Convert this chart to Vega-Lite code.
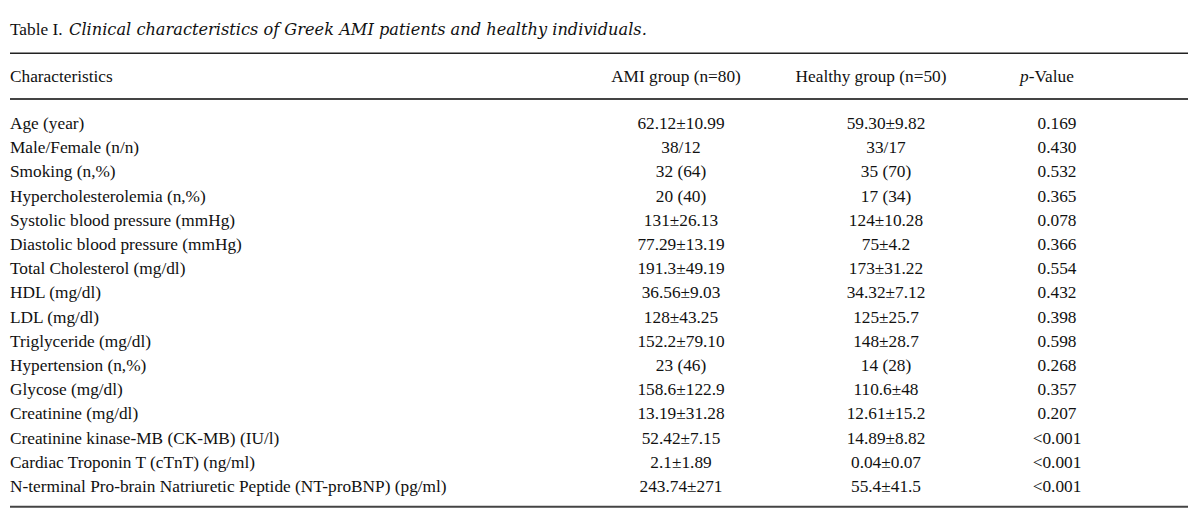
{
  "$schema": "https://vega.github.io/schema/vega-lite/v6.json",
  "width": 1200,
  "height": 532,
  "autosize": {"type": "fit", "contains": "padding"},
  "padding": 0,
  "background": "white",
  "config": {"view": {"stroke": null}, "text": {"font": "Liberation Serif", "fontSize": 17.3, "color": "#111111", "baseline": "alphabetic"}},
  "data": {"values": [
    {"i": 1, "Characteristic": "Age (year)", "AMI": "62.12±10.99", "Healthy": "59.30±9.82", "p": "0.169"},
    {"i": 2, "Characteristic": "Male/Female (n/n)", "AMI": "38/12", "Healthy": "33/17", "p": "0.430"},
    {"i": 3, "Characteristic": "Smoking (n,%)", "AMI": "32 (64)", "Healthy": "35 (70)", "p": "0.532"},
    {"i": 4, "Characteristic": "Hypercholesterolemia (n,%)", "AMI": "20 (40)", "Healthy": "17 (34)", "p": "0.365"},
    {"i": 5, "Characteristic": "Systolic blood pressure (mmHg)", "AMI": "131±26.13", "Healthy": "124±10.28", "p": "0.078"},
    {"i": 6, "Characteristic": "Diastolic blood pressure (mmHg)", "AMI": "77.29±13.19", "Healthy": "75±4.2", "p": "0.366"},
    {"i": 7, "Characteristic": "Total Cholesterol (mg/dl)", "AMI": "191.3±49.19", "Healthy": "173±31.22", "p": "0.554"},
    {"i": 8, "Characteristic": "HDL (mg/dl)", "AMI": "36.56±9.03", "Healthy": "34.32±7.12", "p": "0.432"},
    {"i": 9, "Characteristic": "LDL (mg/dl)", "AMI": "128±43.25", "Healthy": "125±25.7", "p": "0.398"},
    {"i": 10, "Characteristic": "Triglyceride (mg/dl)", "AMI": "152.2±79.10", "Healthy": "148±28.7", "p": "0.598"},
    {"i": 11, "Characteristic": "Hypertension (n,%)", "AMI": "23 (46)", "Healthy": "14 (28)", "p": "0.268"},
    {"i": 12, "Characteristic": "Glycose (mg/dl)", "AMI": "158.6±122.9", "Healthy": "110.6±48", "p": "0.357"},
    {"i": 13, "Characteristic": "Creatinine (mg/dl)", "AMI": "13.19±31.28", "Healthy": "12.61±15.2", "p": "0.207"},
    {"i": 14, "Characteristic": "Creatinine kinase-MB (CK-MB) (IU/l)", "AMI": "52.42±7.15", "Healthy": "14.89±8.82", "p": "<0.001"},
    {"i": 15, "Characteristic": "Cardiac Troponin T (cTnT) (ng/ml)", "AMI": "2.1±1.89", "Healthy": "0.04±0.07", "p": "<0.001"},
    {"i": 16, "Characteristic": "N-terminal Pro-brain Natriuretic Peptide (NT-proBNP) (pg/ml)", "AMI": "243.74±271", "Healthy": "55.4±41.5", "p": "<0.001"}
  ]},
  "layer": [
    {
      "mark": {"type": "text", "align": "left"},
      "encoding": {
        "x": {"datum": 10, "type": "quantitative", "scale": {"domain": [0, 1200], "range": [0, 1200], "zero": false, "nice": false}, "axis": null},
        "y": {"field": "i", "type": "quantitative", "scale": {"domain": [1, 16], "range": [129, 492], "zero": false, "nice": false}, "axis": null},
        "text": {"field": "Characteristic"}
      }
    },
    {
      "mark": {"type": "text", "align": "center"},
      "encoding": {"x": {"datum": 681, "type": "quantitative"}, "y": {"field": "i", "type": "quantitative"}, "text": {"field": "AMI"}}
    },
    {
      "mark": {"type": "text", "align": "center"},
      "encoding": {"x": {"datum": 886, "type": "quantitative"}, "y": {"field": "i", "type": "quantitative"}, "text": {"field": "Healthy"}}
    },
    {
      "mark": {"type": "text", "align": "center"},
      "encoding": {"x": {"datum": 1057, "type": "quantitative"}, "y": {"field": "i", "type": "quantitative"}, "text": {"field": "p"}}
    },
    {
      "data": {"values": [{}]},
      "layer": [
        {"mark": {"type": "text", "align": "left", "text": "Table I."}, "encoding": {"x": {"datum": 10, "type": "quantitative"}, "y": {"datum": -2.884, "type": "quantitative"}}},
        {"mark": {"type": "text", "align": "left", "font": "DejaVu Serif", "fontSize": 16.2, "fontStyle": "italic", "text": "Clinical characteristics of Greek AMI patients and healthy individuals."}, "encoding": {"x": {"datum": 69, "type": "quantitative"}, "y": {"datum": -2.884, "type": "quantitative"}}},
        {"mark": {"type": "text", "align": "left", "text": "Characteristics"}, "encoding": {"x": {"datum": 10, "type": "quantitative"}, "y": {"datum": -0.942, "type": "quantitative"}}},
        {"mark": {"type": "text", "align": "center", "text": "AMI group (n=80)"}, "encoding": {"x": {"datum": 676, "type": "quantitative"}, "y": {"datum": -0.942, "type": "quantitative"}}},
        {"mark": {"type": "text", "align": "center", "text": "Healthy group (n=50)"}, "encoding": {"x": {"datum": 871, "type": "quantitative"}, "y": {"datum": -0.942, "type": "quantitative"}}},
        {"mark": {"type": "text", "align": "left", "fontStyle": "italic", "text": "p"}, "encoding": {"x": {"datum": 1020, "type": "quantitative"}, "y": {"datum": -0.942, "type": "quantitative"}}},
        {"mark": {"type": "text", "align": "left", "text": "-Value"}, "encoding": {"x": {"datum": 1028.8, "type": "quantitative"}, "y": {"datum": -0.942, "type": "quantitative"}}},
        {"mark": {"type": "rule", "color": "#222222", "strokeWidth": 1.5}, "encoding": {"x": {"datum": 10, "type": "quantitative"}, "x2": {"datum": 1188}, "y": {"datum": -2.128, "type": "quantitative"}}},
        {"mark": {"type": "rule", "color": "#444444", "strokeWidth": 2}, "encoding": {"x": {"datum": 10, "type": "quantitative"}, "x2": {"datum": 1188}, "y": {"datum": -0.24, "type": "quantitative"}}},
        {"mark": {"type": "rule", "color": "#444444", "strokeWidth": 2}, "encoding": {"x": {"datum": 10, "type": "quantitative"}, "x2": {"datum": 1188}, "y": {"datum": 16.607, "type": "quantitative"}}}
      ]
    }
  ]
}
